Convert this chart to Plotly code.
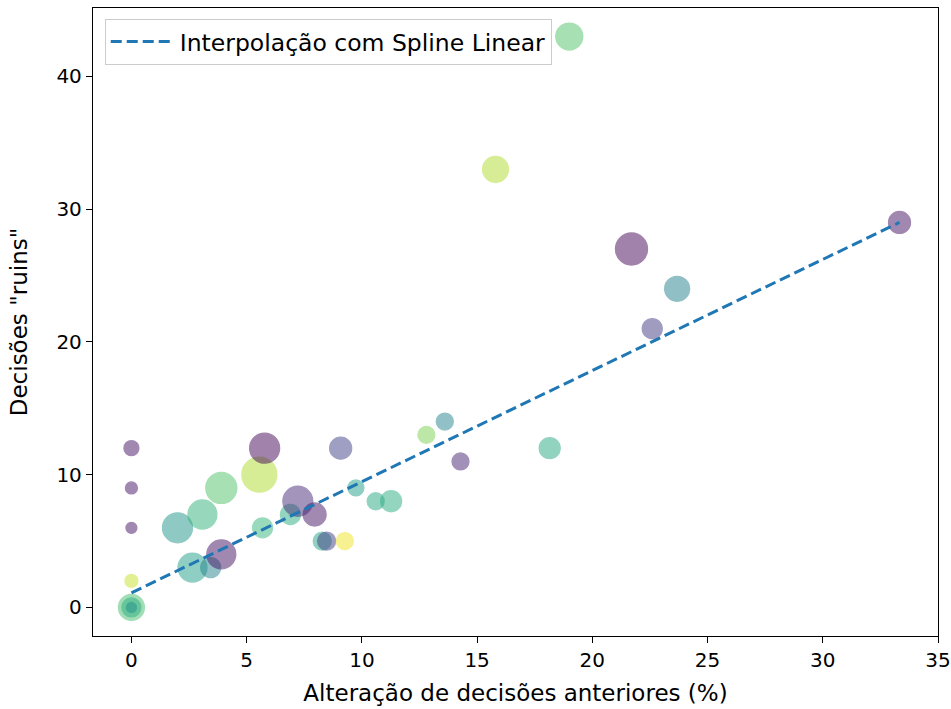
import plotly.graph_objects as go

# ---- data ----
alteracao = [0, 0, 0, 0, 0, 0, 0, 2.0, 2.65, 3.08, 3.44, 3.9, 3.9, 5.55, 5.69, 5.78,
             6.9, 7.22, 7.95, 8.28, 8.47, 9.08, 9.26, 9.74, 10.6, 11.27, 12.8, 13.6,
             14.28, 15.8, 18.15, 19.0, 21.7, 22.6, 23.68, 33.33]
decisoes_ruins = [12, 9, 6, 2, 0, 0, 0, 6, 3, 7, 3, 4, 9, 10, 6, 12,
                  7, 8, 7, 5, 5, 12, 5, 9, 8, 8, 13, 14,
                  11, 33, 12, 43, 27, 21, 24, 29]
bubble_size = [15, 12, 11, 13, 26, 19, 10, 30, 29, 29, 20, 29, 31, 35, 20, 30,
               20, 30, 23, 18, 18, 22, 17, 16, 17, 21, 17, 17,
               17, 26, 21, 27, 32, 20, 25, 22]
color_value = [0.05, 0.05, 0.05, 0.92, 0.7, 0.62, 0.5, 0.52, 0.56, 0.65, 0.45, 0.05, 0.72, 0.88, 0.66, 0.02,
               0.62, 0.12, 0.06, 0.58, 0.18, 0.2, 0.98, 0.56, 0.6, 0.62, 0.8, 0.45,
               0.1, 0.88, 0.6, 0.72, 0.02, 0.18, 0.44, 0.05]

line_x = [0, 33.33]
line_y = [1.1, 29]
line_name = "Interpolação com Spline Linear"

x_ticks = [0, 5, 10, 15, 20, 25, 30, 35]
y_ticks = [0, 10, 20, 30, 40]

FONT = "DejaVu Sans"

fig = go.Figure()
fig.add_trace(go.Scatter(
    x=alteracao, y=decisoes_ruins, mode="markers", showlegend=False,
    marker=dict(size=bubble_size, color=color_value, colorscale="Viridis",
                cmin=0, cmax=1, opacity=0.5,
                line=dict(width=1.3, color=color_value, colorscale="Viridis",
                          cmin=0, cmax=1)),
    hoverinfo="x+y",
))
fig.add_trace(go.Scatter(
    x=line_x, y=line_y, mode="lines", name=line_name,
    line=dict(color="#1f77b4", width=3, dash="11px,5px"),
))

axis_common = dict(
    showgrid=False, zeroline=False, showline=True, mirror=True,
    linecolor="black", linewidth=1.3, ticks="outside", ticklen=6,
    tickwidth=1.3, tickcolor="black",
    tickfont=dict(family=FONT, size=20, color="black"),
)

fig.update_layout(
    width=951, height=709,
    margin=dict(l=93, r=13, t=8, b=73),
    paper_bgcolor="white", plot_bgcolor="white",
    font=dict(family=FONT, color="black"),
    xaxis=dict(range=[-1.667, 35.0], tickvals=x_ticks,
               title=dict(text="Alteração de decisões anteriores (%)",
                          font=dict(family=FONT, size=23, color="black"),
                          standoff=13),
               automargin=False, **axis_common),
    yaxis=dict(range=[-2.15, 45.15], tickvals=y_ticks,
               title=dict(text='Decisões "ruins"',
                          font=dict(family=FONT, size=23, color="black"),
                          standoff=22),
               automargin=False, **axis_common),
    legend=dict(x=0.0139, y=0.983, xanchor="left", yanchor="top",
                bgcolor="rgba(255,255,255,0.8)", bordercolor="#cccccc",
                borderwidth=1, itemwidth=64,
                font=dict(family=FONT, size=23.5, color="black")),
)

fig.write_html("out.html")
